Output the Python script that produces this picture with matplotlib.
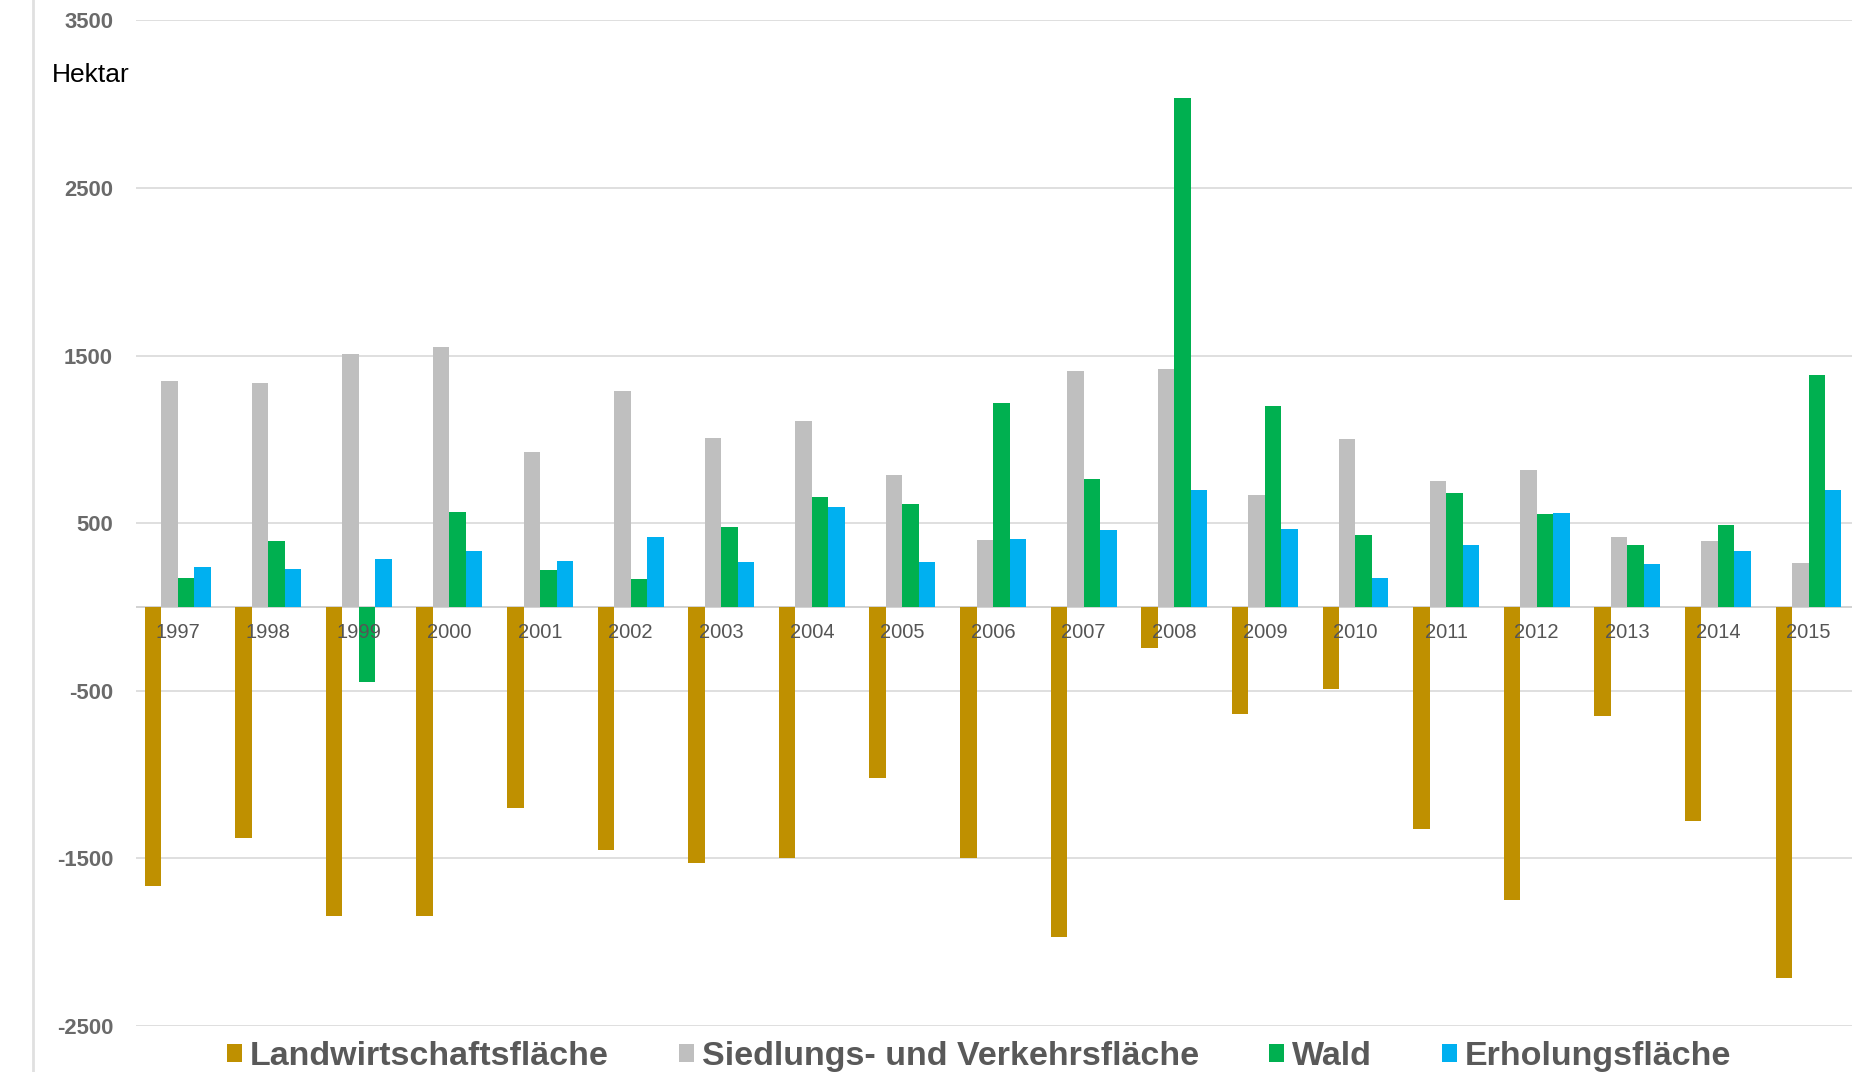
import matplotlib.pyplot as plt
import numpy as np
from matplotlib.patches import Patch
from matplotlib.lines import Line2D

plt.rcParams['font.family'] = ['Liberation Sans', 'DejaVu Sans']

years = ['1997', '1998', '1999', '2000', '2001', '2002', '2003', '2004', '2005', '2006',
         '2007', '2008', '2009', '2010', '2011', '2012', '2013', '2014', '2015']

landwirtschaft = [-1664, -1380, -1843, -1843, -1201, -1449, -1529, -1495, -1022, -1495,
                  -1970, -247, -640, -491, -1326, -1748, -650, -1276, -2215]
siedlung = [1348, 1336, 1511, 1551, 928, 1288, 1008, 1113, 789, 401,
            1408, 1423, 669, 1001, 754, 818, 418, 395, 263]
wald = [175, 394, -445, 567, 219, 167, 477, 655, 613, 1218,
        765, 3039, 1199, 427, 681, 553, 370, 491, 1382]
erholung = [239, 229, 288, 334, 272, 417, 268, 599, 268, 408,
            461, 697, 468, 176, 370, 562, 256, 336, 697]

series_names = ['Landwirtschaftsfläche', 'Siedlungs- und Verkehrsfläche', 'Wald', 'Erholungsfläche']
series_colors = ['#BF9000', '#BFBFBF', '#00B050', '#00B0F0']
yticks = [-2500, -1500, -500, 500, 1500, 2500, 3500]

fig = plt.figure(figsize=(18.52, 10.72), dpi=100)
ax = fig.add_axes([0.0734, 0.0429, 1 - 0.0734, 0.938])

x = np.arange(len(years))
w = 0.182
all_series = [landwirtschaft, siedlung, wald, erholung]
for i, (vals, col) in enumerate(zip(all_series, series_colors)):
    ax.bar(x + (i - 1.5) * w, vals, width=w, color=col, zorder=3, linewidth=0)

ax.set_xlim(-0.46, 18.48)
ax.set_ylim(-2500, 3500)
ax.set_yticks(yticks)
ax.set_yticklabels([str(t) for t in yticks], fontsize=15.8, fontweight='bold', color='#6a6a6a')
ax.tick_params(axis='y', length=0, pad=16.5)
ax.set_xticks([])
ax.grid(axis='y', color='#dcdcdc', linewidth=1.3, zorder=0)
ax.axhline(0, color='#cfcfcf', linewidth=1.3, zorder=2)
for s in ax.spines.values():
    s.set_visible(False)

# year labels sit just under the zero line, over the bars
for xi, yr in zip(x, years):
    ax.annotate(yr, (xi, 0), xytext=(0, -18), textcoords='offset points',
                ha='center', va='center', fontsize=14.5, color='#555555', zorder=5)

fig.text(52 / 1852, 1 - 82 / 1072, 'Hektar', fontsize=19, color='black', va='baseline')

# thin border line on the left
fig.add_artist(Line2D([33 / 1852, 33 / 1852], [0, 1], color='#e0e0e0', linewidth=2))

handles = [Patch(facecolor=c, edgecolor='none', label=n) for c, n in zip(series_colors, series_names)]
leg = fig.legend(handles=handles, loc='center left', bbox_to_anchor=(227 / 1852, 0.0146),
                 ncol=4, frameon=False, borderpad=0, borderaxespad=0,
                 handlelength=0.44, handleheight=0.44, handletextpad=0.24, columnspacing=2.05,
                 prop={'size': 24.5, 'weight': 'bold'})
for t in leg.get_texts():
    t.set_color('#595959')

fig.savefig('out.png', dpi=100)
